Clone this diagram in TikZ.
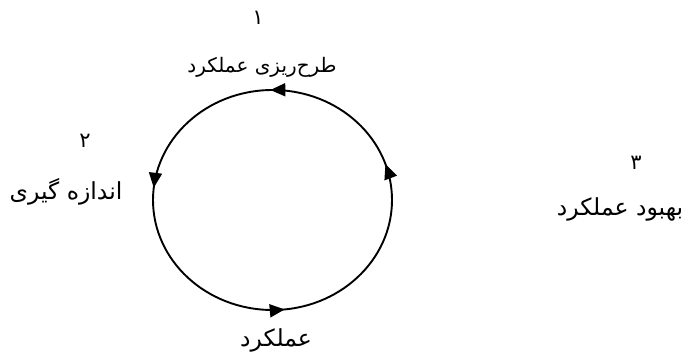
\documentclass[tikz,border=0pt]{standalone}
\usepackage{fontspec}
\newfontfamily\fa[Script=Arabic]{DejaVu Sans}
\TeXXeTstate=1
\usetikzlibrary{arrows.meta,decorations.markings}
\tikzset{
  lbl/.style={inner sep=0pt,font=\fa\fontsize{23.5}{26}\selectfont},
  lbltop/.style={inner sep=0pt,font=\fa\fontsize{20}{22}\selectfont},
  num/.style={inner sep=0pt,font=\fa\fontsize{21}{24}\selectfont},
  cycle/.style={line width=1.9pt,postaction={decorate},
    decoration={markings,
      mark=at position 0.051 with {\arrow{Triangle[length=15pt,width=13pt]}},
      mark=at position 0.253 with {\arrow{Triangle[length=15pt,width=13pt]}},
      mark=at position 0.483 with {\arrow{Triangle[length=15pt,width=13pt]}},
      mark=at position 0.767 with {\arrow{Triangle[length=15pt,width=13pt]}}}}
}
\begin{document}
\begin{tikzpicture}[x=1pt,y=1pt]
\useasboundingbox (0,0) rectangle (688,354);
\coordinate (c) at (272.5,154);
\draw[cycle] (c) ellipse [x radius=119.5, y radius=110];
\node[num] (n1) at (258,336) {۱};
\node[lbltop] (t1) at (262,287) {\beginR طرح‌ریزی عملکرد\endR};
\node[num] (n2) at (85,213) {۲};
\node[lbl] (t2) at (66,162) {\beginR اندازه گیری\endR};
\node[num] (n3) at (636,191) {۳};
\node[lbl] (t3) at (620,145) {\beginR بهبود عملکرد\endR};
\node[lbl] (t4) at (276,14) {\beginR عملکرد\endR};
\end{tikzpicture}
\end{document}
